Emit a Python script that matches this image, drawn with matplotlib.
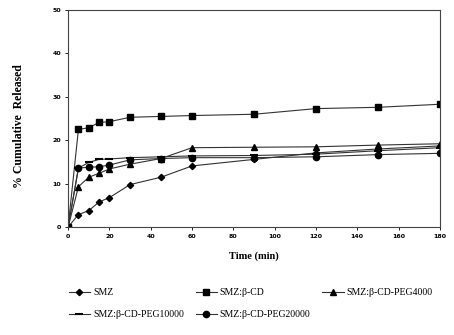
import matplotlib
matplotlib.use("Agg")
import matplotlib.pyplot as plt

# release time points (min)
time = [0, 5, 10, 15, 20, 30, 45, 60, 90, 120, 150, 180]

smz = [0, 2.9, 3.8, 5.8, 6.8, 9.8, 11.5, 14.1, 15.6, 17.1, 18.0, 18.7]
smz_bcd = [0, 22.5, 22.9, 24.1, 24.3, 25.3, 25.5, 25.7, 26.0, 27.3, 27.6, 28.3]
smz_peg4000 = [0, 9.3, 11.5, 12.4, 13.4, 14.5, 15.8, 18.3, 18.4, 18.5, 18.9, 19.2]
smz_peg10000 = [0, 13.6, 14.9, 15.6, 15.7, 16.0, 16.2, 16.4, 16.5, 16.8, 17.6, 18.3]
smz_peg20000 = [0, 13.6, 13.8, 13.9, 14.3, 15.5, 15.8, 16.0, 16.0, 16.2, 16.7, 17.0]

labels = ["SMZ", "SMZ:\u03b2-CD", "SMZ:\u03b2-CD-PEG4000",
          "SMZ:\u03b2-CD-PEG10000", "SMZ:\u03b2-CD-PEG20000"]

serif = ["Liberation Serif", "DejaVu Serif"]

fig = plt.figure(figsize=(4.54, 3.35), dpi=100)
ax = fig.add_axes([0.150, 0.322, 0.819, 0.648])

lc = "#333333"
kw = dict(color=lc, lw=0.8, markerfacecolor="black", markeredgecolor="black")
l_smz, = ax.plot(time, smz, marker="D", ms=3.2, label=labels[0], **kw)
l_bcd, = ax.plot(time, smz_bcd, marker="s", ms=5, label=labels[1], **kw)
l_4000, = ax.plot(time, smz_peg4000, marker="^", ms=5, label=labels[2], **kw)
l_10000, = ax.plot(time, smz_peg10000, marker="_", ms=6, mew=1.5, label=labels[3], **kw)
l_20000, = ax.plot(time, smz_peg20000, marker="o", ms=4.5, label=labels[4], **kw)

ax.set_xlim(0, 180)
ax.set_ylim(0, 50)
ax.set_xticks(range(0, 181, 20))
ax.set_yticks(range(0, 51, 10))
ax.tick_params(length=2, width=0.6, labelsize=4.5, pad=3)
for t in ax.get_xticklabels() + ax.get_yticklabels():
    t.set_fontweight("bold")
for s in ax.spines.values():
    s.set_linewidth(0.8)
    s.set_color("#444444")

ax.set_xlabel("Time (min)", family=serif, fontsize=7.5, fontweight="bold", labelpad=9)
ax.set_ylabel("% Cumulative  Released", family=serif, fontsize=8.5, fontweight="bold")
ax.yaxis.set_label_coords(-0.115, 0.465)

# legend fills column-wise, so order handles to give two rows of three
handles = [l_smz, l_10000, l_bcd, l_20000, l_4000]
fig.legend(handles=handles, labels=[h.get_label() for h in handles],
           loc="upper left", bbox_to_anchor=(0.132, 0.165), ncol=3,
           frameon=False, prop={"family": serif, "size": 7},
           handlelength=2.2, handletextpad=0.3, columnspacing=1.2,
           labelspacing=1.3)

fig.savefig("out.png", dpi=100)
